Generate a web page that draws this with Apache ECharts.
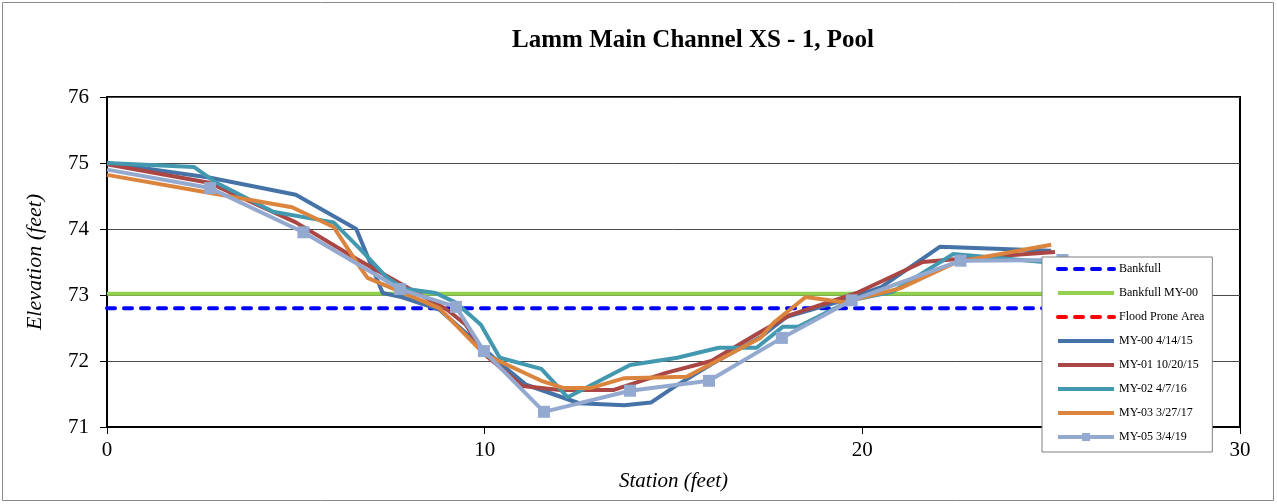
<!DOCTYPE html>
<html>
<head>
<meta charset="utf-8">
<script src="https://cdn.jsdelivr.net/npm/echarts@6/dist/echarts.min.js"></script>
<style>html,body{margin:0;padding:0;background:#fff}#c{width:1277px;height:504px}</style>
</head>
<body>
<div id="c"></div>
<script>
const xTicks = [0, 10, 20, 30];
const yTicks = [71, 72, 73, 74, 75, 76];
const bankfull = [[0, 72.8], [25.3, 72.8]];
const bankfullMY00 = [[0, 73.02], [25.3, 73.02]];
const floodProne = [];
const my00 = [[0,75.0],[2.7,74.78],[5.0,74.52],[6.6,74.0],[7.3,73.03],[7.8,72.97],[8.8,72.78],[10.4,71.97],[11.1,71.64],[12.5,71.36],[13.7,71.33],[14.4,71.37],[15.0,71.6],[16.0,71.95],[17.3,72.36],[18.0,72.67],[19.5,72.92],[20.5,73.12],[22.05,73.73],[25.0,73.67]];
const my01 = [[0,74.98],[2.7,74.7],[5.0,74.1],[6.6,73.55],[8.0,73.1],[9.0,72.78],[9.5,72.55],[10.0,72.1],[11.0,71.62],[12.0,71.56],[13.4,71.56],[14.8,71.82],[16.0,72.0],[17.3,72.44],[18.1,72.7],[19.85,73.03],[21.6,73.5],[22.6,73.55],[25.1,73.65]];
const my02 = [[0,75.0],[2.3,74.94],[2.9,74.7],[4.4,74.26],[6.0,74.1],[6.7,73.7],[7.4,73.27],[7.85,73.1],[8.7,73.03],[9.25,72.88],[9.9,72.55],[10.4,72.05],[11.5,71.88],[12.2,71.45],[13.85,71.94],[15.1,72.05],[16.2,72.2],[17.2,72.2],[17.9,72.52],[18.3,72.52],[19.7,72.92],[20.8,73.05],[22.4,73.62],[24.8,73.5]];
const my03 = [[0,74.82],[2.7,74.55],[4.9,74.33],[6.0,74.03],[6.7,73.42],[6.9,73.26],[8.8,72.8],[10.0,72.1],[11.5,71.7],[12.1,71.59],[12.8,71.59],[13.7,71.74],[15.35,71.76],[17.3,72.35],[17.65,72.58],[18.5,72.97],[19.5,72.89],[21.0,73.1],[22.5,73.5],[25.0,73.76]];
const my05 = [[0,74.9],[2.73,74.62],[5.2,73.95],[7.76,73.09],[9.24,72.82],[9.98,72.15],[11.57,71.23],[13.85,71.55],[15.94,71.7],[17.87,72.35],[19.72,72.92],[22.6,73.52],[25.3,73.53]];

const serif = 'Liberation Serif';
const chart = echarts.init(document.getElementById('c'));
function lineSeries(name, data, color, type, width, cap) {
  return {
    name, type: 'line', data, symbol: 'none', showSymbol: false,
    lineStyle: { color, width, type, cap: cap || 'butt' }, itemStyle: { color },
    animation: false, z: 2, clip: true
  };
}
const hiddenIcon = { itemStyle: { opacity: 0 } };
chart.setOption({
  animation: false,
  title: {
    text: 'Lamm Main Channel XS - 1, Pool', left: 688, textAlign: 'center', top: 23,
    textStyle: { fontFamily: serif, fontSize: 25, fontWeight: 'bold', color: '#000' }
  },
  graphic: [{
    type: 'rect', shape: { x: 2.5, y: 2.5, width: 1271, height: 498 },
    style: { fill: 'none', stroke: '#8a8a8a', lineWidth: 1 }, silent: true, z: -1
  }],
  grid: { left: 107, top: 97, width: 1133, height: 330, show: true, borderColor: '#000', borderWidth: 2, backgroundColor: 'transparent' },
  xAxis: {
    type: 'value', min: xTicks[0], max: xTicks[xTicks.length - 1], interval: 10,
    name: 'Station (feet)', nameLocation: 'middle', nameGap: 44,
    nameTextStyle: { fontFamily: serif, fontSize: 21, fontStyle: 'italic', color: '#000' },
    axisLine: { show: true, lineStyle: { color: '#000', width: 2 } },
    axisTick: { show: true, length: 7, lineStyle: { color: '#000' } },
    axisLabel: { fontFamily: serif, fontSize: 21, color: '#000', margin: 13 },
    splitLine: { show: false }
  },
  yAxis: {
    type: 'value', min: yTicks[0], max: yTicks[yTicks.length - 1], interval: 1,
    name: 'Elevation (feet)', nameLocation: 'middle', nameGap: 61, nameRotate: 90,
    nameTextStyle: { fontFamily: serif, fontSize: 22, fontStyle: 'italic', color: '#000' },
    axisLine: { show: true, lineStyle: { color: '#000', width: 2 } },
    axisTick: { show: true, length: 7, lineStyle: { color: '#000' } },
    axisLabel: { fontFamily: serif, fontSize: 21, color: '#000', margin: 18 },
    splitLine: { show: true, lineStyle: { color: '#4a4a4a', width: 1 } }
  },
  legend: {
    orient: 'vertical', left: 1042, top: 257,
    padding: [5, 8, 8, 14], itemGap: 10, itemWidth: 56, itemHeight: 10,
    lineStyle: { width: 4 },
    backgroundColor: '#fff', borderColor: '#7f7f7f', borderWidth: 1,
    textStyle: { fontFamily: serif, fontSize: 12, color: '#000', lineHeight: 14 },
    data: [
      Object.assign({ name: 'Bankfull' }, hiddenIcon),
      Object.assign({ name: 'Bankfull MY-00' }, hiddenIcon),
      Object.assign({ name: 'Flood Prone Area' }, hiddenIcon),
      Object.assign({ name: 'MY-00 4/14/15' }, hiddenIcon),
      Object.assign({ name: 'MY-01 10/20/15' }, hiddenIcon),
      Object.assign({ name: 'MY-02 4/7/16' }, hiddenIcon),
      Object.assign({ name: 'MY-03 3/27/17' }, hiddenIcon),
      { name: 'MY-05 3/4/19' }
    ]
  },
  series: [
    lineSeries('Bankfull', bankfull, '#0000ff', [8, 9], 4, 'round'),
    lineSeries('Bankfull MY-00', bankfullMY00, '#92d050', 'solid', 4),
    lineSeries('Flood Prone Area', floodProne, '#ff0000', [8, 9], 4, 'round'),
    lineSeries('MY-00 4/14/15', my00, '#4572a7', 'solid', 4),
    lineSeries('MY-01 10/20/15', my01, '#aa4643', 'solid', 4),
    lineSeries('MY-02 4/7/16', my02, '#4198af', 'solid', 4),
    lineSeries('MY-03 3/27/17', my03, '#db843d', 'solid', 4),
    {
      name: 'MY-05 3/4/19', type: 'line',
      data: my05.map((p, i) => i === 0 ? { value: p, symbol: 'none' } : p),
      symbol: 'rect', symbolSize: 12, showSymbol: true,
      lineStyle: { color: '#93a9cf', width: 4 }, itemStyle: { color: '#93a9cf' }, z: 3, clip: true
    }
  ]
});
</script>
</body>
</html>
